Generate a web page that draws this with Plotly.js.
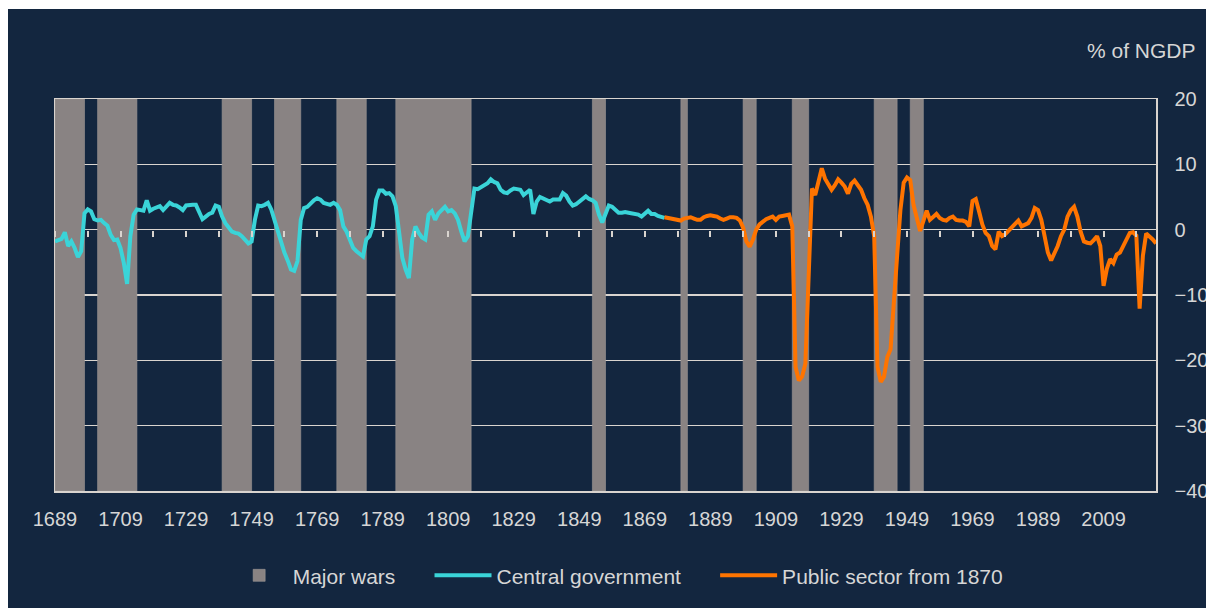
<!DOCTYPE html>
<html>
<head>
<meta charset="utf-8">
<script src="https://cdn.plot.ly/plotly-3.0.1.min.js"></script>
<style>
  html, body { margin: 0; padding: 0; background: #ffffff; width: 1206px; height: 608px; overflow: hidden; }
  #chart { position: absolute; left: 8px; top: 9px; width: 1198px; height: 599px; }
</style>
</head>
<body>
<div id="chart"></div>
<script>
// ---- Data ----
const centralStartYear = 1689;
const centralGov = [
  -1.8,
  -1.6,-1.4,-0.4,-2.5,-1.8,-2.8,-4.2,-3.3,2.5,3.1,
  2.8,1.6,1.4,1.5,1.0,0.6,-0.8,-1.6,-1.5,-2.8,
  -5.1,-8.3,-1.0,2.3,3.1,3.0,2.9,4.5,2.9,3.2,
  3.4,3.6,3.0,3.6,4.1,3.8,3.7,3.4,3.0,3.7,
  3.8,3.8,3.8,2.8,1.6,2.0,2.4,2.6,3.7,3.5,
  2.0,1.0,0.3,-0.3,-0.5,-0.6,-1.0,-1.5,-2.1,-1.8,
  1.5,3.7,3.6,3.8,4.1,3.1,1.5,-0.5,-2.0,-3.5,
  -4.7,-6.1,-6.3,-4.8,1.5,3.3,3.5,4.1,4.5,4.8,
  4.6,4.1,3.9,3.8,4.1,3.8,3.0,0.5,-0.3,-1.5,
  -2.8,-3.3,-3.8,-4.1,-1.5,-1.0,0.5,4.6,6.0,6.0,
  5.5,5.6,5.1,3.6,-0.3,-4.3,-6.1,-7.4,-1.5,0.5,
  -0.5,-1.2,-1.5,2.3,2.8,1.5,2.5,3.0,3.5,2.8,
  3.0,2.5,1.5,-0.3,-1.8,-1.0,3.0,6.3,6.2,6.5,
  6.7,7.1,7.7,7.3,7.1,6.1,5.7,5.6,6.0,6.3,
  6.2,6.1,5.3,5.7,6.1,2.4,4.3,5.0,4.8,4.6,
  4.3,4.6,4.6,4.6,5.6,5.2,4.3,3.7,3.9,4.3,
  4.8,5.1,4.7,4.5,4.1,2.3,1.1,2.5,3.7,3.5,
  3.1,2.6,2.6,2.7,2.6,2.5,2.5,2.3,2.0,2.5,
  2.9,2.4,2.4,2.1,2.0,1.8
];

const publicStartYear = 1875;
const publicSector = [
  1.9,1.8,1.8,1.6,1.5,
  1.4,1.7,1.8,1.9,1.7,1.5,1.5,1.9,2.1,2.2,
  2.1,2.0,1.7,1.5,1.7,1.9,1.9,1.8,1.4,0.3,
  -1.8,-2.6,-1.5,0.0,0.8,1.3,1.6,1.8,2.0,1.5,
  2.0,2.1,2.2,2.3,0.5,-21.0,-23.1,-22.5,-20.5,-6.0,
  6.3,5.3,7.5,9.4,7.8,6.8,6.1,6.8,7.7,7.2,
  6.6,5.5,7.0,7.5,6.8,6.1,4.8,3.8,2.0,-1.0,
  -21.0,-23.3,-22.5,-19.5,-18.3,-12.0,-4.0,3.0,7.2,8.0,
  7.6,3.8,1.5,-0.2,1.3,2.9,1.5,2.0,2.4,1.8,
  1.5,1.4,1.8,2.0,1.5,1.4,1.4,1.2,0.5,4.4,
  4.7,2.8,0.8,-0.5,-1.0,-2.5,-3.0,-0.3,-1.0,-0.7,
  -0.2,0.5,1.0,1.4,0.5,0.8,1.0,1.8,3.3,3.0,
  1.5,-1.0,-3.5,-4.7,-3.6,-2.5,-1.0,0.0,2.0,3.0,
  3.5,2.0,-0.3,-1.8,-2.0,-2.1,-1.6,-1.0,-2.5,-8.6,
  -6.0,-4.5,-5.1,-3.8,-3.5,-2.5,-1.5,-0.5,-0.4,-0.9,
  -12.1,-4.0,-0.6,-1.0,-1.5,-2.1
];

// Major wars: start and end of each shaded band (years)
const warStart = [1689, 1702, 1740, 1756, 1775, 1793, 1853, 1880, 1899, 1914, 1939, 1950];
const warEnd   = [1698, 1714, 1749, 1764, 1784, 1816, 1857, 1882, 1903, 1919, 1946, 1954];

const seriesNames = ['Major wars', 'Central government', 'Public sector from 1870'];

const xRange = [1689, 2025];
const yRange = [-40, 20];

// ---- Build traces ----
const centralYears = centralGov.map((_, i) => centralStartYear + i);
const publicYears = publicSector.map((_, i) => publicStartYear + i);
const pad = '\u00a0\u00a0\u00a0\u00a0\u00a0';

const wars = {
  type: 'bar',
  name: seriesNames[0] + pad,
  x: warStart,
  width: warStart.map((s, i) => warEnd[i] - s),
  offset: 0,
  base: warStart.map(() => yRange[0]),
  y: warStart.map(() => yRange[1] - yRange[0]),
  marker: { color: '#898383', line: { color: '#9d9795', width: 0.6 } },
  xaxis: 'x', yaxis: 'y',
  hoverinfo: 'skip'
};

const central = {
  type: 'scatter', mode: 'lines',
  name: seriesNames[1] + pad,
  x: centralYears, y: centralGov,
  line: { color: '#3ad4d8', width: 4 },
  xaxis: 'x2', yaxis: 'y'
};

const pub = {
  type: 'scatter', mode: 'lines',
  name: seriesNames[2],
  x: publicYears, y: publicSector,
  line: { color: '#ff7400', width: 4 },
  xaxis: 'x2', yaxis: 'y'
};

const textColor = '#d6d6d6';
const gridColor = '#d9d4cf';
const fontFam = '"Liberation Sans", Arial, sans-serif';

const layout = {
  width: 1198, height: 599,
  paper_bgcolor: '#13263f',
  plot_bgcolor: '#13263f',
  margin: { l: 47, r: 50, t: 90, b: 115 },
  font: { family: fontFam, size: 20, color: textColor },
  showlegend: true,
  bargap: 0,
  legend: {
    orientation: 'h', x: 0.155, xanchor: 'left', y: -0.216, yanchor: 'middle',
    font: { family: fontFam, size: 21, color: textColor },
    bgcolor: 'rgba(0,0,0,0)', traceorder: 'normal', itemwidth: 57
  },
  xaxis: {
    range: xRange, tick0: 1689, dtick: 20,
    showgrid: false, zeroline: false,
    showline: true, mirror: true, linecolor: gridColor, linewidth: 1.5,
    ticks: '', tickfont: { family: fontFam, size: 20, color: textColor },
    ticklabelstandoff: 9
  },
  xaxis2: {
    range: xRange, overlaying: 'x', anchor: 'free',
    position: (0 - yRange[0]) / (yRange[1] - yRange[0]),
    tick0: 1689, dtick: 10,
    ticks: 'outside', ticklen: 6, tickwidth: 2, tickcolor: gridColor,
    showticklabels: false, showgrid: false, zeroline: false, showline: false
  },
  yaxis: {
    range: yRange, dtick: 10, side: 'right',
    showgrid: true, gridcolor: gridColor, gridwidth: 1.5,
    zeroline: false,
    showline: true, mirror: true, linecolor: gridColor, linewidth: 1.5,
    ticks: '', tickfont: { family: fontFam, size: 20, color: textColor },
    ticklabelstandoff: 13
  },
  annotations: [{
    text: '% of NGDP', xref: 'paper', yref: 'paper',
    x: 1.038, y: 1.124, xanchor: 'right', yanchor: 'middle',
    showarrow: false, font: { family: fontFam, size: 21, color: textColor }
  }]
};

Plotly.newPlot('chart', [wars, central, pub], layout, { staticPlot: true, displayModeBar: false });
</script>
</body>
</html>
